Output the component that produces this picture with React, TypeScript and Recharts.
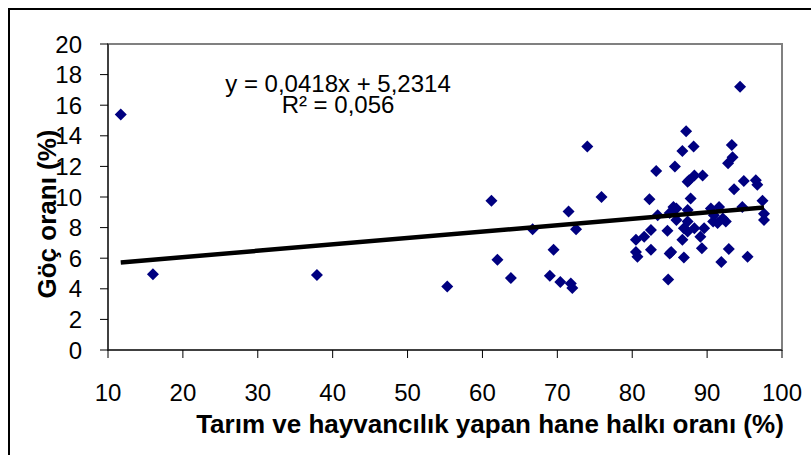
import { ScatterChart, Scatter, XAxis, YAxis, ReferenceArea } from 'recharts';

// Tarım ve hayvancılık yapan hane halkı oranı (%)
const farmShare = [
  11.7, 16.0, 37.9, 55.3, 61.2, 62.0, 63.8, 66.7, 69.0, 69.5, 70.4, 71.5, 71.8, 72.0, 72.5, 74.0, 75.9,
  80.5, 80.5, 80.7, 81.6, 82.5, 82.3, 82.5, 83.2, 83.4, 84.7, 84.8, 85.0, 85.2, 85.0, 85.5, 85.9, 85.7,
  85.9, 86.7, 86.7, 86.9, 86.9, 87.2, 87.4, 87.4, 87.4, 87.4, 87.6, 87.8, 88.2, 88.3, 88.3, 89.4, 89.1,
  89.3, 89.6, 90.5, 90.8, 90.9, 91.4, 91.6, 91.9, 92.1, 92.5, 92.8, 92.9, 93.3, 93.4, 93.6, 94.4, 94.7,
  94.9, 95.4, 96.5, 96.7, 97.4, 97.6, 97.6,
];
// Göç oranı (%)
const migration = [
  15.4, 4.95, 4.9, 4.15, 9.75, 5.9, 4.7, 7.9, 4.85, 6.55, 4.45, 9.05, 4.35, 4.05, 7.9, 13.3, 10.0,
  7.2, 6.4, 6.1, 7.4, 7.85, 9.85, 6.55, 11.7, 8.8, 7.8, 4.6, 8.95, 6.4, 6.3, 9.35, 9.25, 12.0,
  8.5, 13.0, 7.2, 6.05, 7.95, 14.3, 9.15, 8.4, 7.75, 11.0, 11.1, 9.9, 13.3, 11.4, 7.95, 11.4, 7.4,
  6.65, 7.95, 9.25, 8.4, 8.8, 8.3, 9.35, 5.75, 8.6, 8.4, 12.2, 6.6, 13.4, 12.6, 10.5, 17.2, 9.35,
  11.05, 6.1, 11.1, 10.8, 9.75, 8.9, 8.5,
];
const xTicks = [10, 20, 30, 40, 50, 60, 70, 80, 90, 100];
const yTicks = [0, 2, 4, 6, 8, 10, 12, 14, 16, 18, 20];

// trendline shown in the chart: y = 0,0418x + 5,2314
const slope = 0.0418;
const intercept = 5.2314;

const points = farmShare.map((x, i) => ({ x, y: migration[i] }));
const xMin = Math.min(...farmShare);
const xMax = Math.max(...farmShare);
const trend = [xMin, xMax].map((x) => ({ x, y: slope * x + intercept }));

const font = '"Liberation Sans", Arial, sans-serif';

const Diamond = (props: any) => {
  const { cx, cy } = props;
  const r = 6;
  return <path d={`M${cx},${cy - r}L${cx + r},${cy}L${cx},${cy + r}L${cx - r},${cy}Z`} fill="#000080" />;
};

export default function App() {
  return (
    <div style={{ position: 'absolute', left: 0, top: 0, width: 811, height: 455, overflow: 'hidden', background: '#fff', fontFamily: font }}>
      <div style={{ position: 'absolute', left: 8, top: 8, width: 900, height: 600, borderTop: '2px solid #000', borderLeft: '2px solid #000' }} />
      <ScatterChart width={811} height={455} margin={{ top: 44, right: 29, bottom: 0, left: 0 }} style={{ position: 'absolute', left: 0, top: 0 }}>
        <ReferenceArea x1={10} x2={100} y1={0} y2={20} fill="none" stroke="#808080" strokeWidth={2} ifOverflow="visible" />
        <XAxis
          type="number" dataKey="x" domain={[10, 100]} ticks={xTicks} height={105}
          stroke="#000" tickSize={8} tickMargin={26} interval={0}
          tick={{ fill: '#000', fontSize: 24, fontFamily: font }}
          label={{ value: 'Tarım ve hayvancılık yapan hane halkı oranı (%)', position: 'insideBottom', dx: 45, offset: 22, fill: '#000', fontSize: 26, fontWeight: 'bold', fontFamily: font }}
        />
        <YAxis
          type="number" dataKey="y" domain={[0, 20]} ticks={yTicks} width={108}
          stroke="#000" tickSize={8} tickMargin={18} interval={0}
          tick={{ fill: '#000', fontSize: 24, fontFamily: font }}
          label={{ value: 'Göç oranı (%)', angle: -90, position: 'insideLeft', textAnchor: 'middle', dx: 42, dy: 17, fill: '#000', fontSize: 26, fontWeight: 'bold', fontFamily: font }}
        />
        <Scatter data={points} shape={Diamond} isAnimationActive={false} />
        <Scatter data={trend} line={{ stroke: '#000', strokeWidth: 4.5 }} shape={() => <g />} isAnimationActive={false} />
      </ScatterChart>
      <div style={{ position: 'absolute', left: 138, width: 400, top: 73, textAlign: 'center', fontSize: 24, lineHeight: '21px', color: '#000' }}>
        y = 0,0418x + 5,2314<br />R² = 0,056
      </div>
    </div>
  );
}
